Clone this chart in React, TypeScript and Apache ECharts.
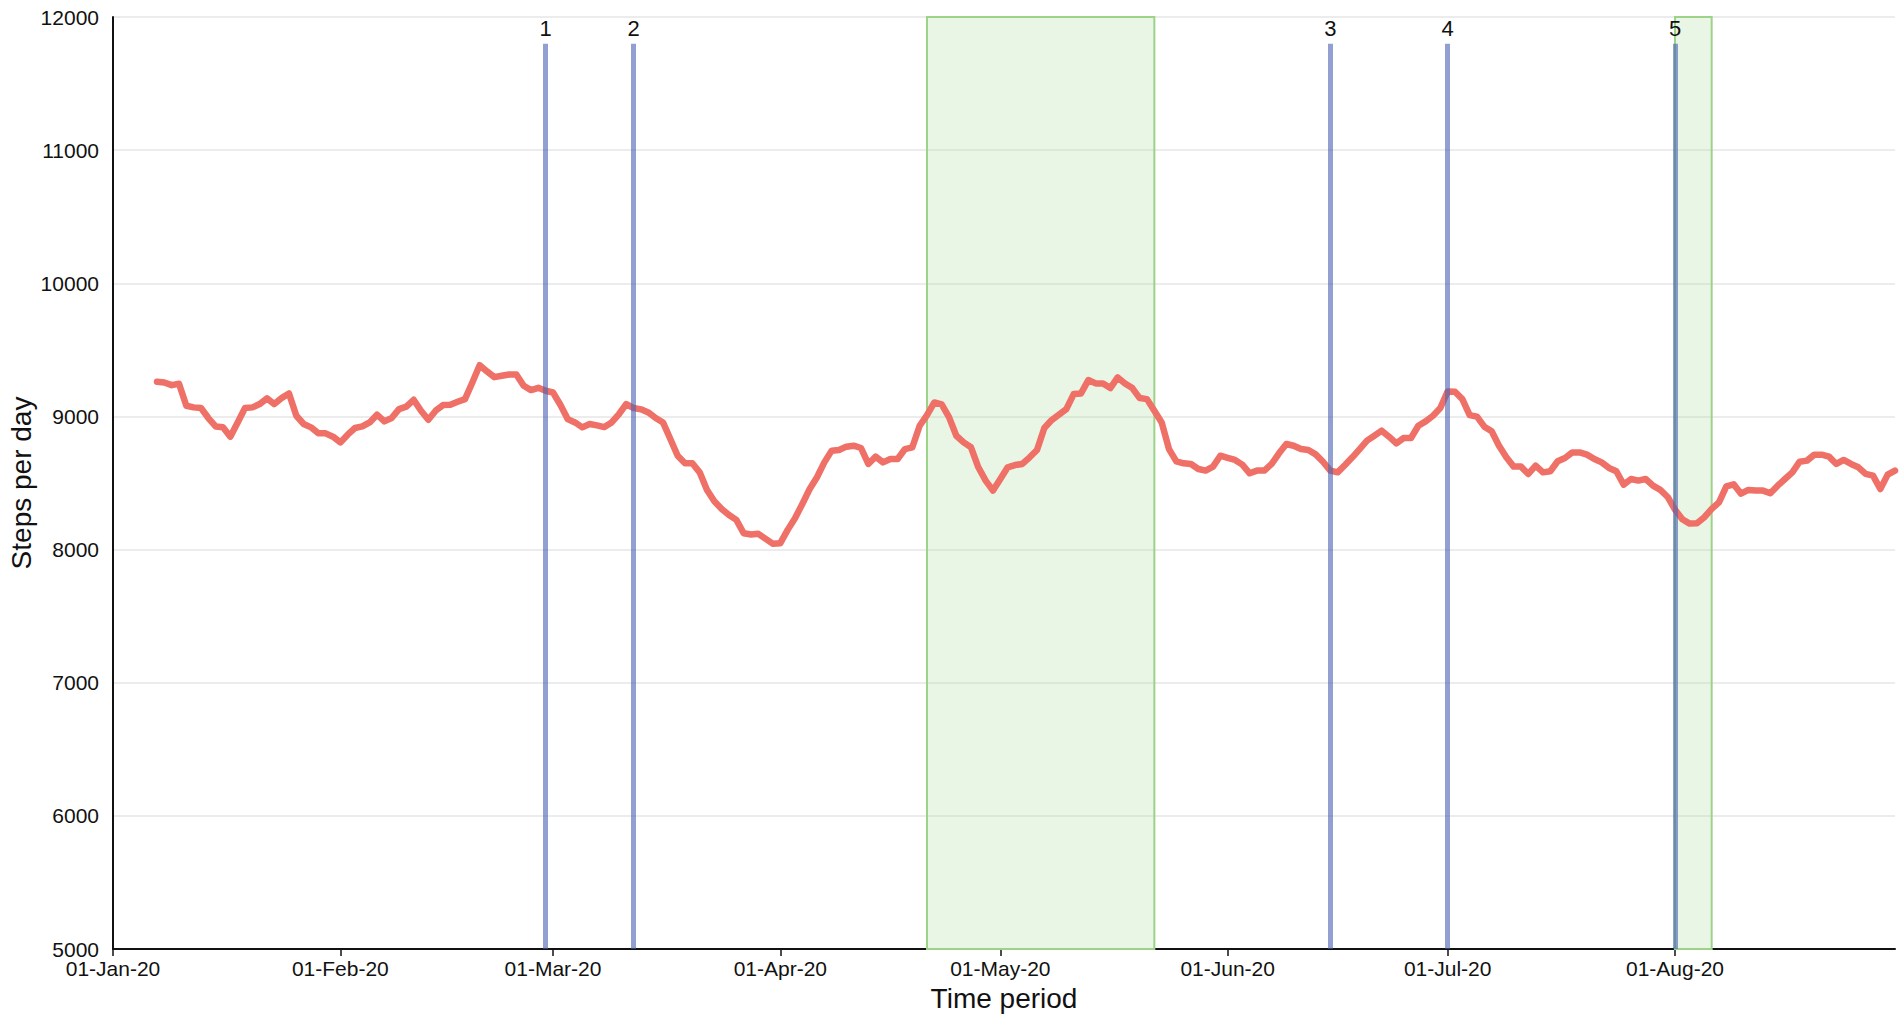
import React, { useEffect, useRef } from "react";
import * as echarts from "echarts";

// 7-day average steps per day, one value per day starting 07-Jan-2020
const startDate = "2020-01-07";
const stepsJan = [9260, 9255, 9235, 9245, 9080, 9068, 9063, 8988, 8925, 8918, 8848, 8955, 9063, 9068, 9093, 9135, 9093, 9138, 9173, 9005, 8943, 8918, 8873, 8873, 8848];
const stepsFeb = [8805, 8863, 8913, 8925, 8955, 9013, 8963, 8988, 9055, 9073, 9125, 9043, 8975, 9043, 9085, 9088, 9110, 9130, 9255, 9385, 9338, 9295, 9305, 9315, 9315, 9230, 9198, 9215, 9193];
const stepsMar = [9180, 9088, 8980, 8955, 8918, 8943, 8933, 8920, 8955, 9018, 9093, 9063, 9053, 9030, 8988, 8955, 8830, 8705, 8648, 8648, 8580, 8448, 8363, 8305, 8260, 8223, 8123, 8113, 8118, 8080, 8043];
const stepsApr = [8048, 8148, 8235, 8343, 8455, 8543, 8655, 8743, 8748, 8773, 8780, 8763, 8643, 8698, 8655, 8680, 8680, 8755, 8768, 8930, 9010, 9105, 9090, 8995, 8855, 8805, 8768, 8618, 8518, 8443];
const stepsMay = [8530, 8618, 8635, 8643, 8693, 8748, 8913, 8973, 9013, 9055, 9168, 9173, 9273, 9248, 9248, 9213, 9293, 9248, 9213, 9138, 9130, 9043, 8955, 8755, 8663, 8648, 8643, 8605, 8593, 8623, 8705];
const stepsJun = [8688, 8673, 8638, 8573, 8593, 8593, 8643, 8723, 8793, 8780, 8755, 8748, 8715, 8660, 8593, 8580, 8635, 8693, 8755, 8818, 8855, 8893, 8848, 8798, 8838, 8838, 8930, 8963, 9005, 9063];
const stepsJul = [9188, 9185, 9130, 9010, 8998, 8923, 8888, 8780, 8693, 8623, 8623, 8568, 8630, 8580, 8588, 8663, 8688, 8730, 8730, 8713, 8680, 8655, 8613, 8588, 8488, 8530, 8518, 8530, 8480, 8448, 8395];
const stepsAug = [8300, 8228, 8195, 8198, 8243, 8305, 8355, 8475, 8490, 8420, 8448, 8443, 8443, 8423, 8480, 8530, 8580, 8660, 8668, 8713, 8713, 8698, 8643, 8673, 8643, 8618, 8568, 8555, 8455, 8563, 8593];

// axis range
const axisStart = "2020-01-01";
const axisEnd = "2020-08-31";
const yMin = 5000;
const yMax = 12000;
const yStep = 1000;

// numbered events (vertical lines)
const eventDates = ["2020-02-29", "2020-03-12", "2020-06-15", "2020-07-01", "2020-08-01"];
const eventLabels = ["1", "2", "3", "4", "5"];
const eventTop = 11800;

// shaded periods
const periodStarts = ["2020-04-21", "2020-08-01"];
const periodEnds = ["2020-05-22", "2020-08-06"];

const monthNames = ["Jan", "Feb", "Mar", "Apr", "May", "Jun", "Jul", "Aug", "Sep", "Oct", "Nov", "Dec"];

function isoDay(t: number) {
  return new Date(t).toISOString().slice(0, 10);
}

function buildCategories() {
  const out: string[] = [];
  const t0 = Date.parse(axisStart + "T00:00:00Z");
  const t1 = Date.parse(axisEnd + "T00:00:00Z");
  for (let t = t0; t <= t1; t += 86400000) out.push(isoDay(t));
  return out;
}

function fmtLabel(v: string) {
  const [y, m, d] = v.split("-");
  return `${d}-${monthNames[parseInt(m, 10) - 1]}-${y.slice(2)}`;
}

export default function App() {
  const ref = useRef<HTMLDivElement>(null);
  useEffect(() => {
    if (!ref.current) return;
    const chart = echarts.init(ref.current, undefined, { renderer: "svg" });
    const categories = buildCategories();
    const steps = [...stepsJan, ...stepsFeb, ...stepsMar, ...stepsApr, ...stepsMay, ...stepsJun, ...stepsJul, ...stepsAug];
    const offset = categories.indexOf(startDate);
    const lineData: (number | null)[] = categories.map((_, i) =>
      i >= offset && i - offset < steps.length ? steps[i - offset] : null
    );
    const isMonthStart = (_i: number, v: string) => v.endsWith("-01");
    const font = "'Liberation Sans', Arial, Helvetica, sans-serif";

    chart.setOption({
      animation: false,
      backgroundColor: "#ffffff",
      textStyle: { fontFamily: font },
      grid: { left: 113, right: 7, top: 17, bottom: 70, containLabel: false, outerBoundsMode: "none" },
      xAxis: {
        type: "category",
        data: categories,
        boundaryGap: false,
        name: "Time period",
        nameLocation: "middle",
        nameGap: 35,
        nameTextStyle: { fontSize: 28, color: "#111", fontFamily: font },
        axisLine: { show: true, lineStyle: { color: "#111", width: 2 } },
        axisTick: { show: true, interval: isMonthStart, length: 7, lineStyle: { color: "#111", width: 1.5 } },
        axisLabel: {
          interval: isMonthStart,
          formatter: fmtLabel,
          fontSize: 21,
          color: "#111",
          margin: 9,
          fontFamily: font,
        },
        splitLine: { show: false },
      },
      yAxis: {
        type: "value",
        min: yMin,
        max: yMax,
        interval: yStep,
        name: "Steps per day",
        nameLocation: "middle",
        nameGap: 78,
        nameMoveOverlap: false,
        nameTextStyle: { fontSize: 28, color: "#111", fontFamily: font },
        axisLine: { show: true, lineStyle: { color: "#111", width: 2 } },
        axisTick: { show: false },
        axisLabel: {
          fontSize: 21,
          color: "#111",
          margin: 14,
          fontFamily: font,
          formatter: (v: number) => String(v),
        },
        splitLine: { show: true, lineStyle: { color: "#e6e6e6", width: 1.5 } },
      },
      series: [
        {
          type: "line",
          z: 2,
          data: lineData,
          showSymbol: false,
          symbol: "none",
          connectNulls: false,
          lineStyle: { color: "#ef7067", width: 6.5, join: "round", cap: "round" },
          emphasis: { disabled: true },
          silent: true,
        },
        {
          type: "line",
          z: 5,
          data: [],
          silent: true,
          markArea: {
            silent: true,
            itemStyle: { color: "rgba(170,220,150,0.25)", borderColor: "#9dd389", borderWidth: 2 },
            emphasis: { disabled: true },
            data: periodStarts.map((s, i) => [{ xAxis: s }, { xAxis: periodEnds[i] }]),
          },
          markLine: {
            silent: true,
            symbol: ["none", "none"],
            emphasis: { disabled: true },
            lineStyle: { color: "rgba(72,96,178,0.6)", width: 5, type: "solid" },
            label: {
              show: true,
              position: "end",
              distance: 4,
              fontSize: 22,
              color: "#111",
              fontFamily: font,
              formatter: (p: any) => eventLabels[p.dataIndex],
            },
            data: eventDates.map((d) => [
              { xAxis: d, yAxis: yMin },
              { xAxis: d, yAxis: eventTop },
            ]),
          },
        },
      ],
    });
    return () => chart.dispose();
  }, []);
  return (
    <div
      ref={ref}
      style={{ position: "fixed", left: 0, top: 0, width: 1902, height: 1019, background: "#fff" }}
    />
  );
}
